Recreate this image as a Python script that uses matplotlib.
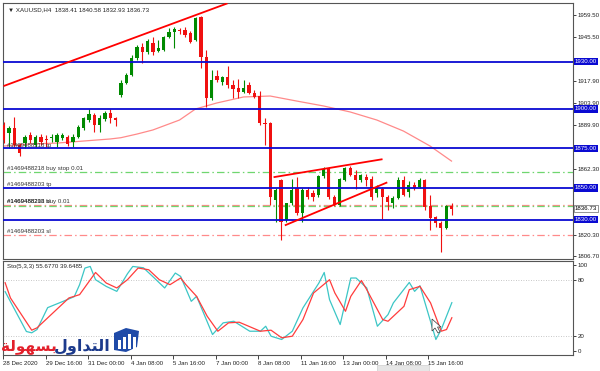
import matplotlib
matplotlib.use('Agg')
import matplotlib.pyplot as plt
import matplotlib.transforms as mtransforms
from matplotlib.patches import Polygon, Rectangle
import numpy as np

# ---------------- data ----------------
opens = [1889.8, 1884.8, 1887.9, 1877.2, 1878.4, 1883.5, 1877.2, 1882.2, 1881.0, 1881.6,
         1879.1, 1881.6, 1882.2, 1879.1, 1882.2, 1887.9, 1893.0, 1896.2, 1889.8, 1893.6,
         1897.4, 1894.3, 1908.8, 1916.4, 1921.5, 1932.3, 1939.2, 1936.1, 1941.8, 1936.7,
         1937.3, 1945.6, 1948.7, 1950.0, 1950.0, 1948.1, 1943.7, 1958.2, 1932.9, 1906.9,
         1920.9, 1917.1, 1920.2, 1915.2, 1913.3, 1910.7, 1915.2, 1910.1, 1908.2, 1891.1,
         1891.1, 1842.3, 1855.0, 1829.7, 1840.4, 1849.9, 1834.1, 1848.7, 1846.8, 1845.5,
         1857.5, 1862.6, 1844.2, 1839.2, 1855.0, 1862.6, 1858.2, 1855.0, 1856.9, 1855.6,
         1846.8, 1849.3, 1844.2, 1840.4, 1843.6, 1855.0, 1847.4, 1851.8, 1850.6, 1855.0,
         1838.5, 1831.6, 1827.8, 1824.6, 1838.41]
highs = [1891.7, 1889.2, 1894.9, 1878.4, 1883.5, 1885.4, 1883.5, 1884.1, 1883.5, 1884.1,
         1884.8, 1884.8, 1883.5, 1884.1, 1889.8, 1894.9, 1900.0, 1897.4, 1896.2, 1898.7,
         1900.0, 1894.9, 1918.3, 1922.8, 1934.2, 1940.5, 1941.8, 1944.3, 1945.6, 1943.7,
         1946.2, 1951.3, 1951.9, 1951.3, 1951.9, 1949.4, 1958.2, 1958.9, 1937.3, 1924.7,
         1924.7, 1920.9, 1927.2, 1918.3, 1919.0, 1918.3, 1917.1, 1912.0, 1911.4, 1894.3,
         1891.7, 1849.9, 1855.6, 1840.4, 1855.6, 1856.9, 1849.9, 1850.6, 1848.7, 1858.2,
         1863.2, 1863.2, 1845.5, 1856.3, 1863.2, 1863.9, 1861.3, 1858.8, 1858.8, 1857.5,
         1851.8, 1850.6, 1845.5, 1844.9, 1856.9, 1857.5, 1854.4, 1853.7, 1856.3, 1855.6,
         1845.5, 1832.2, 1829.0, 1839.2, 1840.58]
lows = [1878.4, 1875.3, 1875.9, 1870.2, 1875.3, 1878.4, 1875.9, 1877.2, 1875.9, 1879.1,
        1875.9, 1880.3, 1876.5, 1875.9, 1881.6, 1886.7, 1891.7, 1885.4, 1885.4, 1892.4,
        1891.1, 1889.2, 1907.6, 1915.8, 1920.9, 1931.0, 1929.1, 1934.8, 1934.2, 1936.1,
        1936.7, 1944.9, 1938.6, 1947.5, 1945.6, 1941.8, 1943.0, 1925.9, 1901.2, 1905.7,
        1917.1, 1915.2, 1913.3, 1906.9, 1906.9, 1910.1, 1909.5, 1906.9, 1889.8, 1877.2,
        1839.2, 1828.4, 1817.0, 1828.4, 1839.2, 1832.8, 1828.4, 1843.0, 1841.7, 1844.2,
        1856.3, 1843.0, 1838.5, 1838.5, 1854.4, 1857.5, 1849.3, 1853.7, 1851.2, 1842.3,
        1844.2, 1830.3, 1836.0, 1837.3, 1843.0, 1844.9, 1844.2, 1848.7, 1849.9, 1836.0,
        1823.3, 1825.2, 1809.4, 1824.0, 1832.93]
closes = [1880.3, 1887.9, 1877.2, 1872.1, 1882.2, 1880.3, 1882.2, 1879.1, 1880.3, 1882.2,
          1883.5, 1883.5, 1877.8, 1882.2, 1888.6, 1894.3, 1896.8, 1889.8, 1894.3, 1897.4,
          1894.3, 1893.0, 1916.4, 1921.5, 1932.3, 1939.2, 1936.1, 1943.0, 1936.1, 1938.6,
          1945.6, 1948.7, 1950.6, 1949.1, 1946.8, 1942.4, 1957.6, 1932.9, 1906.9, 1918.3,
          1918.3, 1920.2, 1915.2, 1912.6, 1910.7, 1913.3, 1910.1, 1907.6, 1891.1, 1890.5,
          1844.2, 1848.7, 1828.4, 1840.4, 1848.7, 1834.1, 1848.7, 1844.2, 1844.2, 1857.5,
          1862.0, 1844.2, 1839.2, 1855.6, 1862.6, 1858.2, 1855.0, 1858.2, 1855.0, 1844.2,
          1849.9, 1844.2, 1841.1, 1843.6, 1855.0, 1845.5, 1851.8, 1849.9, 1855.0, 1837.9,
          1830.9, 1827.8, 1824.6, 1838.5, 1836.73]

ma_bars = [0, 5, 10, 15, 20, 22, 25, 28, 33, 36, 40, 45, 50, 55, 60, 65, 70, 75, 80, 84]
ma_vals = [1876.5, 1877.8, 1878.4, 1879.7, 1881.0, 1881.8, 1884.1, 1886.7, 1893.0, 1900.0,
           1903.8, 1907.6, 1908.2, 1905.0, 1901.9, 1898.1, 1893.0, 1886.0, 1876.5, 1867.0]

levels = [1930.0, 1900.0, 1875.0, 1850.0, 1830.0]
price_ticks = [1959.5, 1945.5, 1917.9, 1903.9, 1889.9, 1862.3, 1820.3, 1806.7]
last_price = 1836.73

channel_x = [0, 42]
channel_y = [1914.5, 1966.9]
wedge_top_x = [50.8, 70.9]
wedge_top_y = [1856.9, 1868.1]
wedge_bot_x = [52.9, 71.8]
wedge_bot_y = [1826.5, 1853.3]

order_lines = [(1860.0, '#6fd66f'), (1839.2, '#ff8a8a'), (1838.4, '#6fd66f'), (1820.2, '#ff8a8a')]
order_labels = [(1875.6, '#1469488218 tp'),
                (1860.6, '#1469488218 buy stop 0.01'),
                (1850.6, '#1469488203 tp'),
                (1839.6, '#1469488203 buy 0.01'),
                (1839.6, '#1469488218 sl'),
                (1820.8, '#1469488203 sl')]

k_bars = [0, 4, 5, 6, 8, 11, 13, 14, 15, 16, 17, 19, 21, 23, 24, 26, 28, 30, 32, 33, 35, 36,
          39, 41, 43, 46, 48, 49, 50, 52, 54, 56, 59, 60, 61, 63, 65, 66, 68, 70, 72, 73,
          76, 77, 78, 81, 82, 84]
k_vals = [67.4, 25.0, 23.6, 27.1, 50.4, 57.3, 62.1, 74.8, 92.5, 94.2, 80.1, 73.0, 67.7, 86.4,
          94.2, 92.8, 82.2, 71.3, 87.2, 83.6, 57.1, 62.4, 21.8, 34.2, 35.9, 25.3, 25.3, 30.6,
          20.0, 16.5, 25.3, 50.1, 76.6, 87.8, 58.9, 32.4, 81.9, 81.9, 71.3, 30.6, 43.0, 55.4,
          77.2, 67.7, 73.7, 16.5, 27.1, 55.68]
d_bars = [0, 1, 5, 6, 9, 12, 14, 17, 19, 21, 23, 25, 27, 29, 31, 33, 34, 36, 38, 40, 42, 44,
          48, 50, 52, 54, 56, 58, 61, 62, 64, 65, 67, 68, 71, 72, 75, 76, 78, 80, 82, 83, 84]
d_vals = [76.9, 60.7, 26.4, 28.9, 44.8, 60.7, 64.2, 87.8, 76.6, 71.3, 80.1, 92.5, 90.7, 80.1,
          74.8, 81.9, 74.8, 62.4, 41.2, 25.3, 34.2, 34.9, 25.3, 26.4, 18.3, 20.0, 37.7, 66.0,
          80.1, 66.0, 46.5, 62.4, 79.3, 69.5, 37.7, 35.9, 51.8, 69.5, 73.0, 55.4, 25.3, 27.1,
          39.65]

date_bars = [0, 8, 16, 24, 32, 40, 48, 56, 64, 72, 80]
date_labels = ['28 Dec 2020', '29 Dec 16:00', '31 Dec 00:00', '4 Jan 08:00', '5 Jan 16:00',
               '7 Jan 00:00', '8 Jan 08:00', '11 Jan 16:00', '13 Jan 00:00', '14 Jan 08:00',
               '15 Jan 16:00']

title_text = '\u25bc XAUUSD,H4  1838.41 1840.58 1832.93 1836.73'
sto_text = 'Sto(5,3,3) 55.6770 39.6485'

# ---------------- style ----------------
FS = 4.4
FONT = ['Liberation Sans', 'DejaVu Sans']
plt.rcParams['font.family'] = FONT
BULL = '#008a00'
BEAR = '#f01010'
BLUE = '#0a0ad2'

W, H = 600, 371
fig = plt.figure(figsize=(W / 100, H / 100), dpi=100)
fig.patch.set_facecolor('white')

def fx(px):
    return px / W

def fy(py):
    return 1 - py / H

ax = fig.add_axes([fx(3), fy(259), fx(570), 256 / H])
ax2 = fig.add_axes([fx(3), fy(355), fx(570), 94 / H])

nbars = len(opens)
x = np.arange(nbars)
xl = (-0.1, -0.1 + 570 / 5.333)

# ---------------- main panel ----------------
o = np.array(opens); c = np.array(closes); h = np.array(highs); l = np.array(lows)
cols = [BULL if cc >= oo else BEAR for oo, cc in zip(o, c)]
ax.vlines(x, l, h, colors=cols, lw=0.8, zorder=3)
body = np.maximum(np.abs(c - o), 0.45)
ax.bar(x, body, bottom=np.minimum(o, c), width=0.62, color=cols, linewidth=0, zorder=4)

ax.plot(ma_bars, ma_vals, color='#ff8a8a', lw=0.9, zorder=2)

for lv in levels:
    ax.axhline(lv, color=BLUE, lw=1.3, zorder=5)

for price, col in order_lines:
    ax.axhline(price, color=col, lw=0.9, ls=(0, (6, 2.5, 1.2, 2.5)), zorder=1.5)

ax.plot(channel_x, channel_y, color='#ff0000', lw=1.3, zorder=6, solid_capstyle='butt')
ax.plot(wedge_top_x, wedge_top_y, color='#ff0000', lw=1.3, zorder=6)
ax.plot(wedge_bot_x, wedge_bot_y, color='#ff0000', lw=1.3, zorder=6)

blend = mtransforms.blended_transform_factory(ax.transAxes, ax.transData)
for price, txt in order_labels:
    ax.text(0.0078, price, txt, transform=blend, fontsize=FS, color='#333333',
            va='bottom', ha='left', zorder=7)

ax.text(0.009, 0.982, title_text, transform=ax.transAxes, fontsize=FS, color='#222222',
        va='top', ha='left', zorder=8)

ax.set_xlim(*xl)
ax.set_ylim(1805.0, 1967.1)
ax.set_xticks([])
ax.yaxis.tick_right()
ax.set_yticks(price_ticks)
ax.set_yticklabels(['%.2f' % v for v in price_ticks])
ax.tick_params(axis='y', labelsize=FS, length=2, width=0.6, pad=1.5, colors='#222222')

for lv in levels:
    ax.text(1.0035, lv, '%.2f' % lv, transform=blend, fontsize=FS, color='white',
            va='center', ha='left', clip_on=False, zorder=10,
            bbox=dict(boxstyle='square,pad=0.18', fc=BLUE, ec='none'))
ax.text(1.0035, last_price, '%.2f' % last_price, transform=blend, fontsize=FS, color='black',
        va='center', ha='left', clip_on=False, zorder=10,
        bbox=dict(boxstyle='square,pad=0.18', fc='white', ec='#444444', lw=0.4))

for sp in ax.spines.values():
    sp.set_color('#555555'); sp.set_linewidth(0.8)

# ---------------- stochastic panel ----------------
ax2.plot(k_bars, k_vals, color='#3cc6c6', lw=0.9, zorder=3)
ax2.plot(d_bars, d_vals, color='#ff3c3c', lw=0.9, zorder=4)
for lv in (80, 20):
    ax2.axhline(lv, color='#b5b5b5', lw=0.6, ls=(0, (1, 2)), zorder=1)
ax2.set_xlim(*xl)
ax2.set_ylim(0, 100)
ax2.yaxis.tick_right()
ax2.set_yticks([96, 80, 20, 4.6])
ax2.set_yticklabels(['100', '80', '20', '0'])
ax2.tick_params(axis='y', labelsize=FS, length=2, width=0.6, pad=1.5, colors='#222222')
ax2.set_xticks([b - 0.4 for b in date_bars])
ax2.set_xticklabels(date_labels)
ax2.tick_params(axis='x', labelsize=FS, length=3, width=0.6, pad=1.5, colors='#222222')
for lab in ax2.get_xticklabels():
    lab.set_ha('left')
ax2.text(0.0078, 0.945, sto_text, transform=ax2.transAxes, fontsize=FS, color='#222222',
         va='center', ha='left', zorder=8)
for sp in ax2.spines.values():
    sp.set_color('#555555'); sp.set_linewidth(0.8)

# ---------------- watermark logo ----------------
red_word = '\ufe94\ufedf\ufeee\ufeec\ufeb4\ufe91'      # بسهولة (visual order)
blue_word = '\ufedd\ufeed\ufe8d\ufeaa\ufe98\ufedf\ufe8d'  # التداول (visual order)
fig.text(fx(1), fy(350), red_word, fontsize=11, fontweight='bold', color='#e3202b',
         family=['DejaVu Sans'], ha='left', va='baseline', zorder=20)
fig.text(fx(111), fy(350), blue_word, fontsize=11.5, fontweight='bold', color='#1c3a8c',
         family=['DejaVu Sans'], ha='right', va='baseline', zorder=20)
shield = Polygon([(fx(114), fy(333)), (fx(126), fy(328)), (fx(139), fy(331)),
                  (fx(137), fy(347)), (fx(126), fy(352)), (fx(114), fy(350))],
                 closed=True, transform=fig.transFigure, fc='#1f4aa8', ec='none', zorder=20)
fig.patches.append(shield)
for bx, top in ((118, 340), (123, 337), (128, 334), (133, 337)):
    fig.patches.append(Rectangle((fx(bx), fy(349)), fx(3), (349 - top) / H,
                                 transform=fig.transFigure, fc='white', ec='none', zorder=21))

# mouse cursor
cursor = Polygon([(fx(432), fy(319)), (fx(432), fy(331)), (fx(435), fy(328)),
                  (fx(438), fy(333)), (fx(440), fy(332)), (fx(437.5), fy(327)), (fx(441), fy(327))],
                 closed=True, transform=fig.transFigure, fc='white', ec='#333333', lw=0.5, zorder=22)
fig.patches.append(cursor)

# small toolbar overlay at bottom
fig.patches.append(Rectangle((fx(377), fy(371)), fx(52), 6 / H, transform=fig.transFigure,
                             fc='#e6e6e6', ec='#cfcfcf', lw=0.5, zorder=22))

fig.savefig('out.png', dpi=100, facecolor='white')
